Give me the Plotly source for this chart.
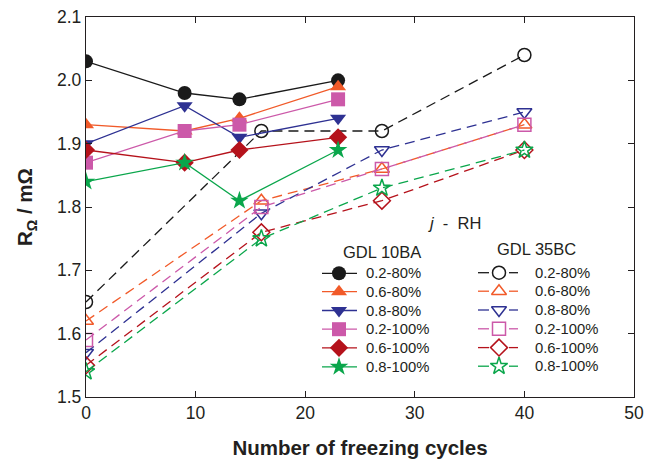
import plotly.graph_objects as go

labels = ["0.2-80%", "0.6-80%", "0.8-80%", "0.2-100%", "0.6-100%", "0.8-100%"]
colors = ["#1a1a1a", "#f15a29", "#2e3192", "#cc59a9", "#b5121b", "#0aa64b"]
sym_filled = ["circle", "triangle-up", "triangle-down", "square", "diamond", "star"]
sym_open = ["circle-open", "triangle-up-open", "triangle-down-open", "square-open", "diamond-open", "star-open"]

x_10ba = [0, 9, 14, 23]
y_10ba = [
    [2.03, 1.98, 1.97, 2.00],
    [1.93, 1.92, 1.94, 1.99],
    [1.90, 1.96, 1.91, 1.94],
    [1.87, 1.92, 1.93, 1.97],
    [1.89, 1.87, 1.89, 1.91],
    [1.84, 1.87, 1.81, 1.89],
]

x_35bc = [0, 16, 27, 40]
y_35bc = [
    [1.65, 1.92, 1.92, 2.04],
    [1.62, 1.81, 1.86, 1.93],
    [1.57, 1.79, 1.89, 1.95],
    [1.59, 1.80, 1.86, 1.93],
    [1.55, 1.76, 1.81, 1.89],
    [1.54, 1.75, 1.83, 1.89],
]

FONT = "Liberation Sans, Arial, sans-serif"
TXT = "#231f20"
DASH = "10px,6px"

# plot area in pixels
L, R, T, B = 86, 634, 17, 397
W, H = 657, 468

fig = go.Figure()

for i in range(6):
    fig.add_trace(go.Scatter(
        x=x_35bc, y=y_35bc[i], name=labels[i], mode="lines+markers",
        line=dict(color=colors[i], width=1.3, dash=DASH),
        marker=dict(symbol=sym_open[i], size=13, color=colors[i], line=dict(width=1.5, color=colors[i])),
        showlegend=False, hoverinfo="skip",
    ))

for i in range(6):
    fig.add_trace(go.Scatter(
        x=x_10ba, y=y_10ba[i], name=labels[i], mode="lines+markers",
        line=dict(color=colors[i], width=1.3),
        marker=dict(symbol=sym_filled[i], size=14, color=colors[i], line=dict(width=0)),
        showlegend=False, hoverinfo="skip",
    ))

# ---- hand-built legend on an overlay axis measured in pixels ----
rows1 = [273.3, 291.7, 310.5, 329.2, 347.8, 366.8]
rows2 = [272.7, 291.2, 310.0, 328.8, 347.6, 366.2]
annotations = []
for i in range(6):
    y1 = rows1[i]
    fig.add_trace(go.Scatter(
        x=[322, 357], y=[y1, y1], mode="lines", line=dict(color=colors[i], width=1.3),
        xaxis="x2", yaxis="y2", showlegend=False, hoverinfo="skip"))
    fig.add_trace(go.Scatter(
        x=[339], y=[y1], mode="markers",
        marker=dict(symbol=sym_filled[i], size=14, color=colors[i], line=dict(width=0)),
        xaxis="x2", yaxis="y2", showlegend=False, hoverinfo="skip"))
    annotations.append(dict(x=364, y=y1, xref="x2", yref="y2", text=labels[i], showarrow=False,
                            xanchor="left", yanchor="middle", font=dict(family=FONT, size=14.8, color=TXT)))
    y2 = rows2[i]
    fig.add_trace(go.Scatter(
        x=[478, 489, None, 509, 518], y=[y2, y2, None, y2, y2], mode="lines",
        line=dict(color=colors[i], width=1.3),
        xaxis="x2", yaxis="y2", showlegend=False, hoverinfo="skip"))
    fig.add_trace(go.Scatter(
        x=[499], y=[y2], mode="markers",
        marker=dict(symbol=sym_open[i], size=13, color=colors[i], line=dict(width=1.5, color=colors[i])),
        xaxis="x2", yaxis="y2", showlegend=False, hoverinfo="skip"))
    annotations.append(dict(x=533, y=y2, xref="x2", yref="y2", text=labels[i], showarrow=False,
                            xanchor="left", yanchor="middle", font=dict(family=FONT, size=14.8, color=TXT)))

annotations += [
    dict(x=382, y=252, xref="x2", yref="y2", text="GDL 10BA", showarrow=False,
         xanchor="center", yanchor="middle", font=dict(family=FONT, size=16.5, color=TXT)),
    dict(x=536, y=249, xref="x2", yref="y2", text="GDL 35BC", showarrow=False,
         xanchor="center", yanchor="middle", font=dict(family=FONT, size=16.5, color=TXT)),
    dict(x=426, y=223, xref="x2", yref="y2", text="<i>j</i>  -  RH", showarrow=False,
         xanchor="left", yanchor="middle", font=dict(family=FONT, size=16.5, color=TXT)),
]

axis_common = dict(
    showline=True, linecolor="#231f20", linewidth=1.3, mirror="ticks",
    ticks="inside", ticklen=6, tickwidth=1.3, tickcolor="#231f20",
    showgrid=False, zeroline=False, automargin=False,
    tickfont=dict(family=FONT, size=17.5, color=TXT),
)

fig.update_layout(
    width=W, height=H,
    margin=dict(l=L, r=W - R, t=T, b=H - B),
    plot_bgcolor="white", paper_bgcolor="white",
    font=dict(family=FONT, color=TXT),
    xaxis=dict(range=[0, 50], dtick=10, **axis_common,
               title=dict(text="<b>Number of freezing cycles</b>", font=dict(family=FONT, size=20.5, color=TXT), standoff=18)),
    yaxis=dict(range=[1.5, 2.1], dtick=0.1, tickformat=".1f", **axis_common,
               title=dict(text="<b>R<sub>Ω</sub> / mΩ</b>", font=dict(family=FONT, size=20.5, color=TXT), standoff=18)),
    xaxis2=dict(range=[L, R], overlaying="x", visible=False, fixedrange=True),
    yaxis2=dict(range=[B, T], overlaying="y", visible=False, fixedrange=True),
    annotations=annotations,
    showlegend=False,
)

fig.write_html("out.html", config={"displayModeBar": False},
               post_script="document.body.style.margin='0';document.body.style.overflow='hidden';")
